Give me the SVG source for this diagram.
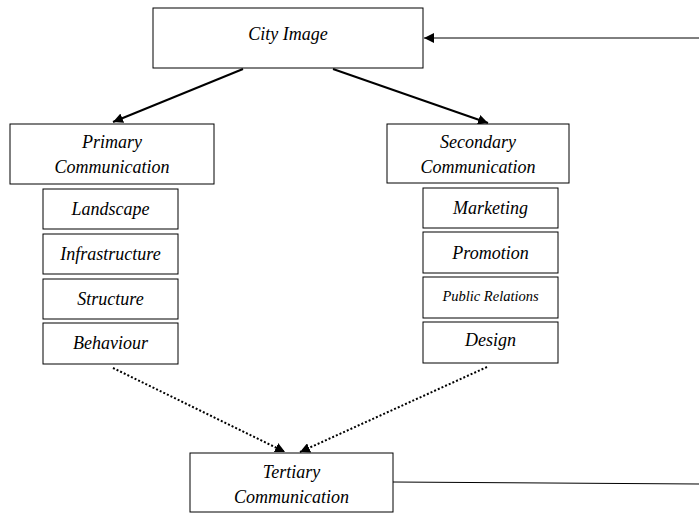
<svg xmlns="http://www.w3.org/2000/svg" width="699" height="514" viewBox="0 0 699 514">
<style>
.box{fill:#fff;stroke:#000;stroke-width:1}
.t{font-family:"Liberation Serif","Times New Roman",serif;font-style:italic;font-size:18px;fill:#000;text-anchor:middle}
.s{font-size:14.5px}
.solid{stroke:#000;stroke-width:2;fill:none}
.thin{stroke:#000;stroke-width:1;fill:none}
.dot{stroke:#000;stroke-width:2;stroke-dasharray:2,2;fill:none}
</style>
<defs>
<marker id="ah" viewBox="0 0 10 10" refX="10" refY="5" markerWidth="10" markerHeight="10" markerUnits="userSpaceOnUse" orient="auto">
<path d="M0,0 L10,5 L0,10 z" fill="#000"/>
</marker>
</defs>
<g id="connectors">
<line class="solid" x1="243" y1="69" x2="113" y2="122" marker-end="url(#ah)"/>
<line class="solid" x1="333" y1="69" x2="488" y2="123" marker-end="url(#ah)"/>
<line class="thin" x1="699" y1="38" x2="424" y2="38" marker-end="url(#ah)"/>
<line class="dot" x1="113" y1="368" x2="285" y2="452" marker-end="url(#ah)"/>
<line class="dot" x1="487" y1="367" x2="300" y2="452" marker-end="url(#ah)"/>
<line class="thin" x1="393" y1="482" x2="699" y2="484"/>
</g>
<g id="city-image">
<rect class="box" x="153" y="8" width="270" height="60"/>
<text class="t" x="288" y="40">City Image</text>
</g>
<g id="primary">
<rect class="box" x="10" y="124" width="204" height="60"/>
<text class="t" x="112" y="148">Primary</text>
<text class="t" x="112" y="173">Communication</text>
</g>
<g id="landscape">
<rect class="box" x="43" y="189" width="135" height="40"/>
<text class="t" x="110.5" y="215">Landscape</text>
</g>
<g id="infrastructure">
<rect class="box" x="43" y="234" width="135" height="40"/>
<text class="t" x="110.5" y="260">Infrastructure</text>
</g>
<g id="structure">
<rect class="box" x="43" y="279" width="135" height="40"/>
<text class="t" x="110.5" y="305">Structure</text>
</g>
<g id="behaviour">
<rect class="box" x="43" y="323" width="135" height="41"/>
<text class="t" x="110.5" y="349">Behaviour</text>
</g>
<g id="secondary">
<rect class="box" x="387" y="124" width="182" height="59"/>
<text class="t" x="478" y="148">Secondary</text>
<text class="t" x="478" y="173">Communication</text>
</g>
<g id="marketing">
<rect class="box" x="423" y="188" width="135" height="40"/>
<text class="t" x="490.5" y="214">Marketing</text>
</g>
<g id="promotion">
<rect class="box" x="423" y="232" width="135" height="41"/>
<text class="t" x="490.5" y="259">Promotion</text>
</g>
<g id="public-relations">
<rect class="box" x="423" y="277" width="135" height="41"/>
<text class="t s" x="490.5" y="301">Public Relations</text>
</g>
<g id="design">
<rect class="box" x="423" y="322" width="135" height="41"/>
<text class="t" x="490.5" y="346">Design</text>
</g>
<g id="tertiary">
<rect class="box" x="190" y="453" width="203" height="59"/>
<text class="t" x="291.5" y="478">Tertiary</text>
<text class="t" x="291.5" y="503">Communication</text>
</g>
</svg>
